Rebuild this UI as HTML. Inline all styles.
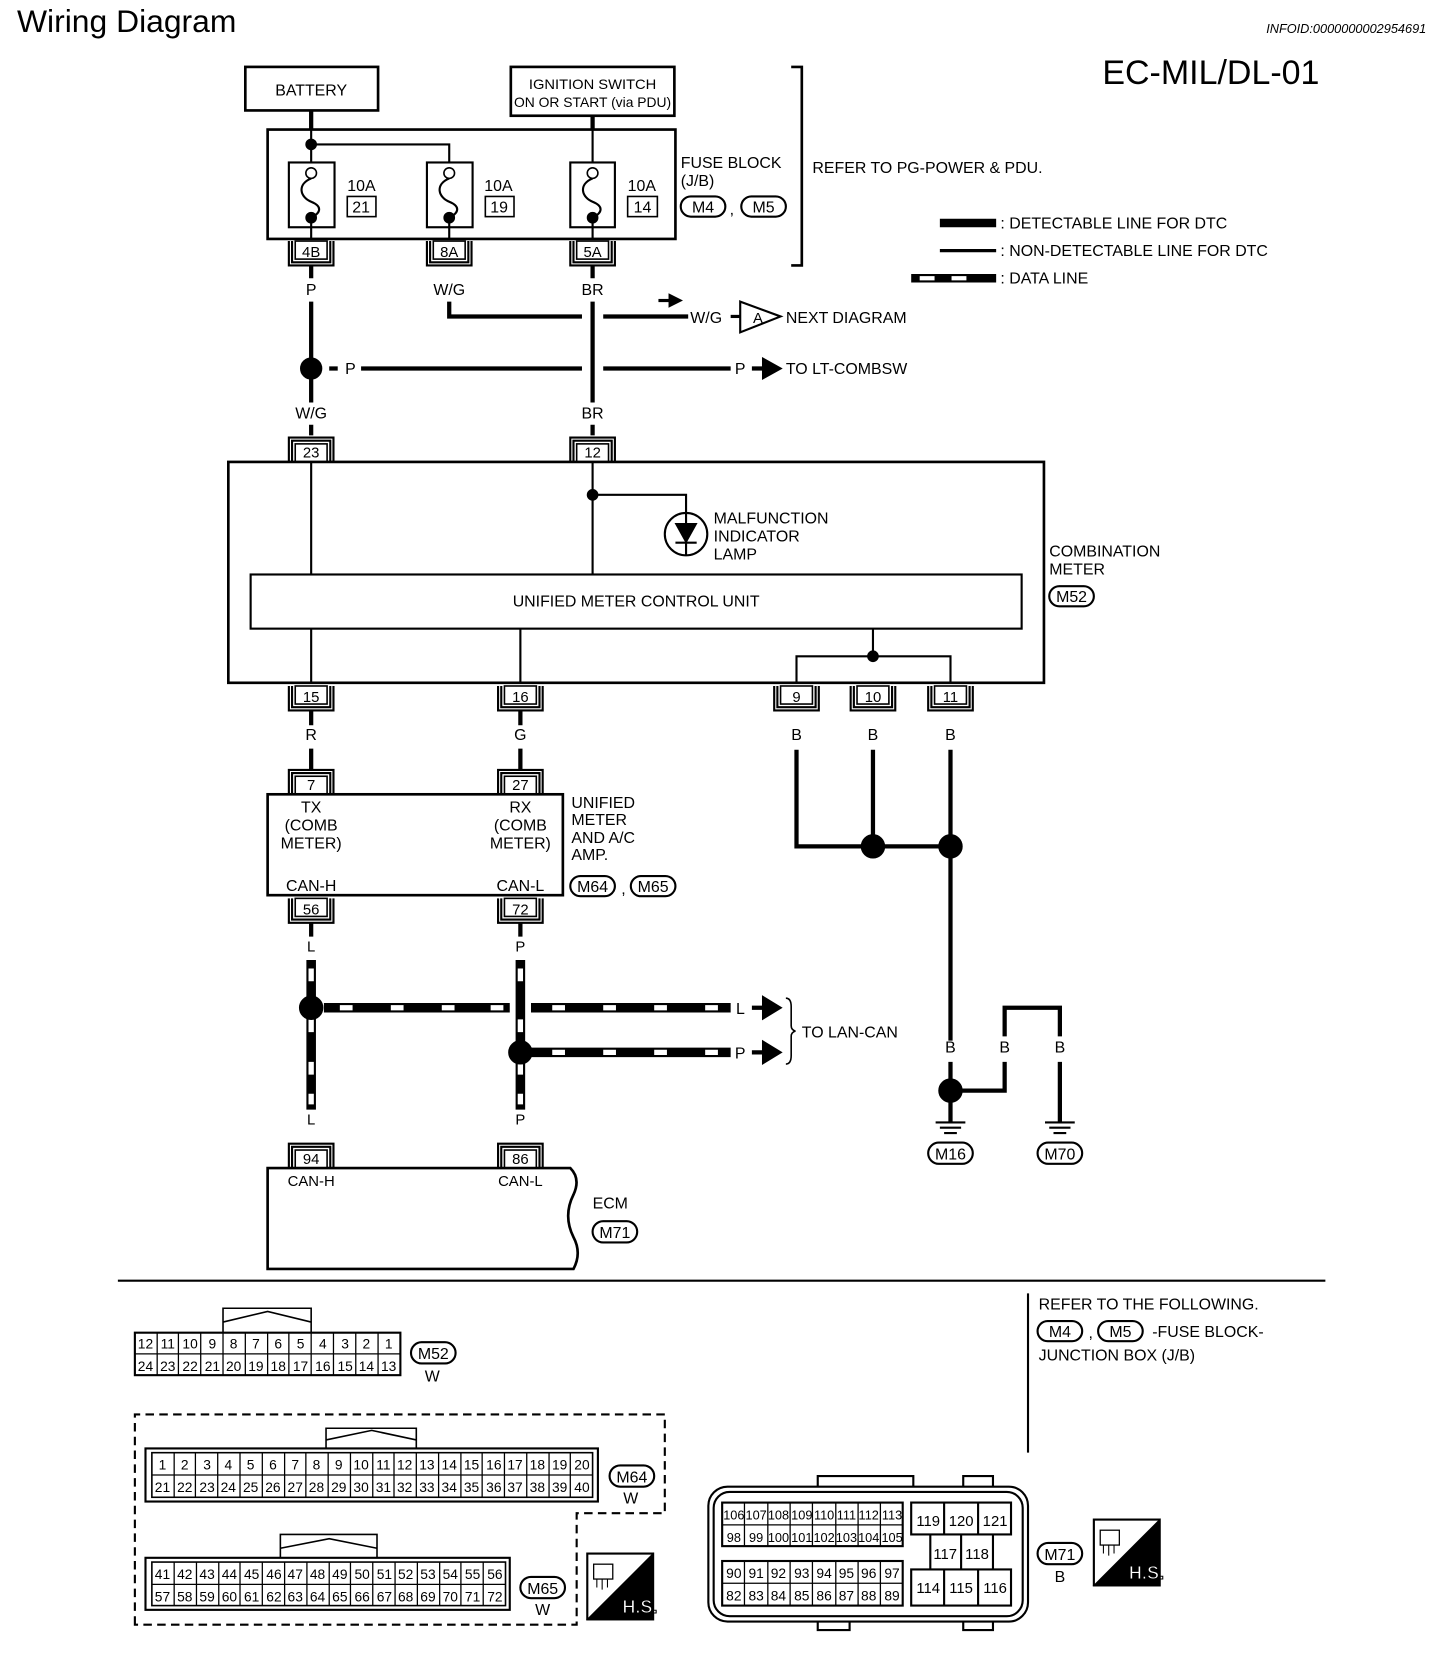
<!DOCTYPE html>
<html><head><meta charset="utf-8"><style>
html,body{margin:0;padding:0;background:#fff}
svg{display:block}
text{font-family:"Liberation Sans",sans-serif;fill:#000}
</style></head><body>
<svg width="1456" height="1664" viewBox="0 0 1371 1567" preserveAspectRatio="none" xmlns="http://www.w3.org/2000/svg">
<defs>
<g id="cdn"><rect x="-15" y="0" width="30" height="17" fill="#fff" stroke="#000" stroke-width="1.5"/><path d="M-21,0V23H21V0M-18,0V20H18V0" fill="none" stroke="#000" stroke-width="2"/></g>
<g id="cup"><rect x="-15" y="-17" width="30" height="17" fill="#fff" stroke="#000" stroke-width="1.5"/><path d="M-21,0V-23H21V0M-18,0V-20H18V0" fill="none" stroke="#000" stroke-width="2"/></g>
<g id="hs"><rect x="0" y="0" width="62" height="62" fill="#fff" stroke="#000" stroke-width="2"/><path d="M62,0V62H0Z" fill="#000"/><text x="33" y="56" font-size="17" font-weight="bold" style="fill:#fff">H.S.</text><rect x="6" y="10" width="18" height="14" fill="none" stroke="#000" stroke-width="1.2"/><path d="M9,24v8M14,24v10M19,24v8" stroke="#000"/></g>
</defs>
<g stroke="#000" fill="none">
<text x="16" y="30" font-size="30" stroke="none">Wiring Diagram</text>
<text x="1343" y="31" font-size="12" font-style="italic" text-anchor="end" stroke="none">INFOID:0000000002954691</text>
<text x="1038" y="79" font-size="32" stroke="none">EC-MIL/DL-01</text>

<rect x="231" y="63" width="125" height="41" stroke-width="2.5"/>
<text x="293" y="90" font-size="15" text-anchor="middle" stroke="none">BATTERY</text>
<rect x="481" y="63" width="154" height="46" stroke-width="2.5"/>
<text x="558" y="84" font-size="13" text-anchor="middle" stroke="none" textLength="120" lengthAdjust="spacingAndGlyphs">IGNITION SWITCH</text>
<text x="558" y="101" font-size="13" text-anchor="middle" stroke="none" textLength="148" lengthAdjust="spacingAndGlyphs">ON OR START (via PDU)</text>
<rect x="252" y="122" width="384" height="103" stroke-width="2.5"/>
<path d="M293,104V122M558,109V122" stroke-width="4"/>
<path d="M293,122V153M293,136H423V153M558,122V153" stroke-width="2"/>
<g stroke-width="2">
<rect x="272" y="153" width="43" height="61"/><rect x="402" y="153" width="43" height="61"/><rect x="537" y="153" width="42" height="61"/>
<path d="M293,168c-14,6-10,18 0,22c10,4,10,10,0,15M423,168c-14,6-10,18 0,22c10,4,10,10,0,15M558,168c-14,6-10,18 0,22c10,4,10,10,0,15"/>
<path d="M293,205V225M423,205V225M558,205V225"/>
</g>
<circle cx="293" cy="136" r="5" fill="#000"/>
<circle cx="293" cy="163" r="5" fill="#fff" stroke-width="1.5"/><circle cx="423" cy="163" r="5" fill="#fff" stroke-width="1.5"/><circle cx="558" cy="163" r="5" fill="#fff" stroke-width="1.5"/>
<circle cx="293" cy="205" r="5" fill="#000"/><circle cx="423" cy="205" r="5" fill="#000"/><circle cx="558" cy="205" r="5" fill="#000"/>
<g stroke="none" font-size="15"><text x="327" y="180">10A</text><text x="456" y="180">10A</text><text x="591" y="180">10A</text>
<text x="340" y="200" text-anchor="middle">21</text><text x="470" y="200" text-anchor="middle">19</text><text x="605" y="200" text-anchor="middle">14</text></g>
<rect x="327" y="185" width="27" height="19" stroke-width="1.5"/><rect x="457" y="185" width="27" height="19" stroke-width="1.5"/><rect x="591" y="185" width="28" height="19" stroke-width="1.5"/>
<use href="#cdn" x="293" y="227"/><use href="#cdn" x="423" y="227"/><use href="#cdn" x="558" y="227"/>
<g stroke="none" font-size="14" text-anchor="middle"><text x="293" y="242">4B</text><text x="423" y="242">8A</text><text x="558" y="242">5A</text></g>

<g stroke="none" font-size="15"><text x="641" y="158">FUSE BLOCK</text><text x="641" y="175">(J/B)</text>
<text x="765" y="163">REFER TO PG-POWER &amp; PDU.</text>
<text x="662" y="200" text-anchor="middle">M4</text><text x="719" y="200" text-anchor="middle">M5</text><text x="687" y="202">,</text></g>
<rect x="641" y="185" width="42" height="19" rx="9.5" stroke-width="2"/><rect x="698" y="185" width="42" height="19" rx="9.5" stroke-width="2"/>
<path d="M745,63H755V250H745" stroke-width="2.5"/>

<path d="M885,210H938" stroke-width="8"/><path d="M885,236H938" stroke-width="3"/>
<path d="M858,262H938" stroke-width="8"/><path d="M866,262H880M896,262H910" stroke="#fff" stroke-width="4"/>
<g stroke="none" font-size="15"><text x="942" y="215">: DETECTABLE LINE FOR DTC</text><text x="942" y="241">: NON-DETECTABLE LINE FOR DTC</text><text x="942" y="267">: DATA LINE</text></g>

<g stroke="none" font-size="15" text-anchor="middle"><text x="293" y="278">P</text><text x="423" y="278">W/G</text><text x="558" y="278">BR</text>
<text x="293" y="394">W/G</text><text x="558" y="394">BR</text></g>
<path d="M293,250V262M558,250V262M293,284V379M558,284V379M293,400V410M558,400V410" stroke-width="4"/>
<path d="M423,284V298H548M568,298H648" stroke-width="4"/>
<path d="M620,283H632" stroke-width="3"/><path d="M630,277L642,283L630,289Z" fill="#000"/>
<g stroke="none" font-size="15"><text x="650" y="304">W/G</text><text x="740" y="304">NEXT DIAGRAM</text><text x="325" y="352">P</text><text x="692" y="352">P</text><text x="740" y="352">TO LT-COMBSW</text></g>
<path d="M688,298H697" stroke-width="3"/><path d="M697,284L735,298L697,313Z" stroke-width="2"/>
<text x="709" y="304" font-size="14" stroke="none">A</text>
<circle cx="293" cy="347" r="10" fill="#000"/>
<path d="M310,347H318M340,347H548M568,347H688" stroke-width="4"/>
<path d="M708,347H722" stroke-width="4"/><path d="M718,337L736,347L718,357Z" fill="#000"/>

<use href="#cup" x="293" y="435"/><use href="#cup" x="558" y="435"/>
<g stroke="none" font-size="14" text-anchor="middle"><text x="293" y="431">23</text><text x="558" y="431">12</text></g>
<rect x="215" y="435" width="768" height="208" stroke-width="2.5"/>
<path d="M293,435V541M558,435V541M558,466H646V483" stroke-width="2"/>
<circle cx="558" cy="466" r="5" fill="#000"/>
<circle cx="646" cy="503" r="20" stroke-width="2"/>
<path d="M636,493H656L646,511Z" fill="#000"/><path d="M636,511H656M646,483V523" stroke-width="2"/>
<g stroke="none" font-size="15"><text x="672" y="493">MALFUNCTION</text><text x="672" y="510">INDICATOR</text><text x="672" y="527">LAMP</text>
<text x="599" y="571" text-anchor="middle">UNIFIED METER CONTROL UNIT</text>
<text x="988" y="524">COMBINATION</text><text x="988" y="541">METER</text><text x="1009" y="567" text-anchor="middle">M52</text></g>
<rect x="988" y="552" width="42" height="19" rx="9.5" stroke-width="2"/>
<rect x="236" y="541" width="726" height="51" stroke-width="2"/>
<path d="M293,592V643M490,592V643M822,592V618M750,643V618H895V643" stroke-width="2"/>
<circle cx="822" cy="618" r="5" fill="#000"/>
<use href="#cdn" x="293" y="646"/><use href="#cdn" x="490" y="646"/><use href="#cdn" x="750" y="646"/><use href="#cdn" x="822" y="646"/><use href="#cdn" x="895" y="646"/>
<g stroke="none" font-size="14" text-anchor="middle"><text x="293" y="661">15</text><text x="490" y="661">16</text><text x="750" y="661">9</text><text x="822" y="661">10</text><text x="895" y="661">11</text></g>
<g stroke="none" font-size="15" text-anchor="middle"><text x="293" y="697">R</text><text x="490" y="697">G</text><text x="750" y="697">B</text><text x="822" y="697">B</text><text x="895" y="697">B</text></g>
<path d="M293,669V683M490,669V683M293,705V726M490,705V726" stroke-width="4"/>
<path d="M750,706V797H895M822,706V797M895,706V980M895,1000V1027" stroke-width="4"/>
<circle cx="822" cy="797" r="11" fill="#000"/><circle cx="895" cy="797" r="11" fill="#000"/>

<use href="#cup" x="293" y="748"/><use href="#cup" x="490" y="748"/>
<g stroke="none" font-size="14" text-anchor="middle"><text x="293" y="744">7</text><text x="490" y="744">27</text></g>
<rect x="252" y="748" width="278" height="95" stroke-width="2.5"/>
<g stroke="none" font-size="15" text-anchor="middle"><text x="293" y="765">TX</text><text x="293" y="782">(COMB</text><text x="293" y="799">METER)</text>
<text x="490" y="765">RX</text><text x="490" y="782">(COMB</text><text x="490" y="799">METER)</text>
<text x="293" y="839">CAN-H</text><text x="490" y="839">CAN-L</text></g>
<g stroke="none" font-size="15"><text x="538" y="761">UNIFIED</text><text x="538" y="777">METER</text><text x="538" y="794">AND A/C</text><text x="538" y="810">AMP.</text>
<text x="558" y="840" text-anchor="middle">M64</text><text x="585" y="842">,</text><text x="615" y="840" text-anchor="middle">M65</text></g>
<rect x="537" y="825" width="42" height="19" rx="9.5" stroke-width="2"/><rect x="594" y="825" width="42" height="19" rx="9.5" stroke-width="2"/>
<use href="#cdn" x="293" y="846"/><use href="#cdn" x="490" y="846"/>
<g stroke="none" font-size="14" text-anchor="middle"><text x="293" y="896">L</text><text x="490" y="896">P</text><text x="293" y="1059">L</text><text x="490" y="1059">P</text>
<text x="293" y="861">56</text><text x="490" y="861">72</text></g>
<path d="M293,869V882M490,869V882" stroke-width="4"/>
<g stroke-width="9"><path d="M293,904V1045M490,904V1045M305,949H480M500,949H688M500,991H688"/></g>
<g stroke="#fff" stroke-width="5"><path d="M293,912V924M293,960V972M293,1000V1012M293,1030V1040M490,912V924M490,960V972M490,1000V1012M490,1030V1040"/>
<path d="M320,949H332M368,949H380M416,949H428M462,949H474M520,949H532M568,949H580M616,949H628M664,949H676M520,991H532M568,991H580M616,991H628M664,991H676"/></g>
<circle cx="293" cy="949" r="11" fill="#000"/><circle cx="490" cy="991" r="11" fill="#000"/>
<g stroke="none" font-size="15"><text x="693" y="955">L</text><text x="692" y="997">P</text><text x="755" y="977">TO LAN-CAN</text></g>
<path d="M708,949H722M708,991H722" stroke-width="4"/><path d="M718,938L736,949L718,960ZM718,980L736,991L718,1002Z" fill="#000"/>
<path d="M740,940q5,0 5,8v18q0,4 4,5q-4,1-4,5v18q0,8-5,8" stroke-width="1.5"/>
<g stroke="none" font-size="15" text-anchor="middle"><text x="895" y="991">B</text><text x="946" y="991">B</text><text x="998" y="991">B</text></g>
<path d="M895,1027H946V1000M946,976V949H998V976M998,1000V1057M895,1027V1057" stroke-width="4"/>
<circle cx="895" cy="1027" r="11" fill="#000"/>
<path d="M881,1057H909M885,1062H905M889,1067H901M984,1057H1012M988,1062H1008M992,1067H1004" stroke-width="2"/>
<rect x="874" y="1076" width="42" height="20" rx="10" stroke-width="2"/><rect x="977" y="1076" width="42" height="20" rx="10" stroke-width="2"/>
<g stroke="none" font-size="15" text-anchor="middle"><text x="895" y="1092">M16</text><text x="998" y="1092">M70</text></g>

<use href="#cup" x="293" y="1100"/><use href="#cup" x="490" y="1100"/>
<g stroke="none" font-size="14" text-anchor="middle"><text x="293" y="1096">94</text><text x="490" y="1096">86</text>
<text x="293" y="1117">CAN-H</text><text x="490" y="1117">CAN-L</text></g>
<path d="M252,1195V1100H537q10,10 3,25q-10,20 0,40q8,15 0,30Z" stroke-width="2.5"/>
<g stroke="none" font-size="15"><text x="558" y="1138">ECM</text><text x="579" y="1166" text-anchor="middle">M71</text></g>
<rect x="558" y="1150" width="42" height="20" rx="10" stroke-width="2"/>

<path d="M111,1206H1248" stroke-width="2"/><path d="M968,1218V1368" stroke-width="2"/>
<g stroke="none" font-size="15"><text x="978" y="1233">REFER TO THE FOLLOWING.</text><text x="998" y="1259" text-anchor="middle">M4</text><text x="1025" y="1260">,</text><text x="1055" y="1259" text-anchor="middle">M5</text><text x="1085" y="1259">-FUSE BLOCK-</text><text x="978" y="1281">JUNCTION BOX (J/B)</text></g>
<rect x="977" y="1244" width="42" height="19" rx="9.5" stroke-width="2"/><rect x="1034" y="1244" width="42" height="19" rx="9.5" stroke-width="2"/>

<path d="M210,1255V1232H293V1255M210,1245L252,1235L293,1245" stroke-width="1.5"/>
<rect x="127" y="1255" width="250" height="40" stroke-width="2"/>
<path d="M127,1275H377M148,1255V1295M168,1255V1295M189,1255V1295M210,1255V1295M231,1255V1295M252,1255V1295M272,1255V1295M293,1255V1295M314,1255V1295M335,1255V1295M356,1255V1295" stroke-width="1.2"/>
<g stroke="none" font-size="13" text-anchor="middle">
<text x="137" y="1270">12</text><text x="158" y="1270">11</text><text x="179" y="1270">10</text><text x="200" y="1270">9</text><text x="220" y="1270">8</text><text x="241" y="1270">7</text><text x="262" y="1270">6</text><text x="283" y="1270">5</text><text x="304" y="1270">4</text><text x="325" y="1270">3</text><text x="345" y="1270">2</text><text x="366" y="1270">1</text>
<text x="137" y="1291">24</text><text x="158" y="1291">23</text><text x="179" y="1291">22</text><text x="200" y="1291">21</text><text x="220" y="1291">20</text><text x="241" y="1291">19</text><text x="262" y="1291">18</text><text x="283" y="1291">17</text><text x="304" y="1291">16</text><text x="325" y="1291">15</text><text x="345" y="1291">14</text><text x="366" y="1291">13</text>
<text x="408" y="1280" font-size="15">M52</text><text x="407" y="1301" font-size="15">W</text></g>
<rect x="387" y="1264" width="42" height="20" rx="10" stroke-width="2"/>

<path d="M127,1530V1332H626V1425H543V1530Z" stroke-width="2" stroke-dasharray="8,5"/>
<path d="M307,1364V1345H392V1364M307,1356L350,1347L392,1356" stroke-width="1.5"/>
<rect x="137" y="1364" width="426" height="50" stroke-width="2"/>
<rect x="143" y="1368" width="415" height="42" stroke-width="1.5"/>
<path d="M143,1389H558" stroke-width="1.2"/>
<path d="M164,1368V1410M184,1368V1410M205,1368V1410M226,1368V1410M247,1368V1410M268,1368V1410M288,1368V1410M309,1368V1410M330,1368V1410M351,1368V1410M371,1368V1410M392,1368V1410M413,1368V1410M434,1368V1410M454,1368V1410M475,1368V1410M496,1368V1410M517,1368V1410M537,1368V1410" stroke-width="1.2"/>
<g stroke="none" font-size="13" text-anchor="middle">
<text x="153" y="1384">1</text><text x="174" y="1384">2</text><text x="195" y="1384">3</text><text x="215" y="1384">4</text><text x="236" y="1384">5</text><text x="257" y="1384">6</text><text x="278" y="1384">7</text><text x="298" y="1384">8</text><text x="319" y="1384">9</text><text x="340" y="1384">10</text><text x="361" y="1384">11</text><text x="381" y="1384">12</text><text x="402" y="1384">13</text><text x="423" y="1384">14</text><text x="444" y="1384">15</text><text x="465" y="1384">16</text><text x="485" y="1384">17</text><text x="506" y="1384">18</text><text x="527" y="1384">19</text><text x="548" y="1384">20</text>
<text x="153" y="1405">21</text><text x="174" y="1405">22</text><text x="195" y="1405">23</text><text x="215" y="1405">24</text><text x="236" y="1405">25</text><text x="257" y="1405">26</text><text x="278" y="1405">27</text><text x="298" y="1405">28</text><text x="319" y="1405">29</text><text x="340" y="1405">30</text><text x="361" y="1405">31</text><text x="381" y="1405">32</text><text x="402" y="1405">33</text><text x="423" y="1405">34</text><text x="444" y="1405">35</text><text x="465" y="1405">36</text><text x="485" y="1405">37</text><text x="506" y="1405">38</text><text x="527" y="1405">39</text><text x="548" y="1405">40</text>
<text x="595" y="1396" font-size="15">M64</text><text x="594" y="1416" font-size="15">W</text>
<text x="511" y="1501" font-size="15">M65</text><text x="511" y="1521" font-size="15">W</text></g>
<rect x="574" y="1380" width="42" height="20" rx="10" stroke-width="2"/>
<path d="M264,1467V1445H355V1467M264,1458L310,1449L355,1458" stroke-width="1.5"/>
<rect x="137" y="1467" width="343" height="49" stroke-width="2"/>
<rect x="143" y="1471" width="333" height="41" stroke-width="1.5"/>
<path d="M143,1492H476" stroke-width="1.2"/>
<path d="M164,1471V1512M185,1471V1512M206,1471V1512M226,1471V1512M247,1471V1512M268,1471V1512M289,1471V1512M310,1471V1512M330,1471V1512M351,1471V1512M372,1471V1512M393,1471V1512M414,1471V1512M434,1471V1512M455,1471V1512" stroke-width="1.2"/>
<g stroke="none" font-size="13" text-anchor="middle">
<text x="153" y="1487">41</text><text x="174" y="1487">42</text><text x="195" y="1487">43</text><text x="216" y="1487">44</text><text x="237" y="1487">45</text><text x="258" y="1487">46</text><text x="278" y="1487">47</text><text x="299" y="1487">48</text><text x="320" y="1487">49</text><text x="341" y="1487">50</text><text x="362" y="1487">51</text><text x="382" y="1487">52</text><text x="403" y="1487">53</text><text x="424" y="1487">54</text><text x="445" y="1487">55</text><text x="466" y="1487">56</text>
<text x="153" y="1508">57</text><text x="174" y="1508">58</text><text x="195" y="1508">59</text><text x="216" y="1508">60</text><text x="237" y="1508">61</text><text x="258" y="1508">62</text><text x="278" y="1508">63</text><text x="299" y="1508">64</text><text x="320" y="1508">65</text><text x="341" y="1508">66</text><text x="362" y="1508">67</text><text x="382" y="1508">68</text><text x="403" y="1508">69</text><text x="424" y="1508">70</text><text x="445" y="1508">71</text><text x="466" y="1508">72</text></g>
<rect x="490" y="1485" width="42" height="20" rx="10" stroke-width="2"/>
<use href="#hs" x="553" y="1463"/>

<rect x="667" y="1400" width="301" height="127" rx="18" stroke-width="2"/>
<rect x="672" y="1405" width="291" height="117" rx="15" stroke-width="2"/>
<path d="M770,1400V1390H860V1400M907,1400V1390H935V1400M770,1527V1535H800V1527M907,1527V1535H935V1527" stroke-width="2"/>
<rect x="680" y="1415" width="170" height="41" stroke-width="2"/><rect x="680" y="1470" width="170" height="42" stroke-width="2"/>
<path d="M680,1436H850M680,1491H850M701,1415V1456M723,1415V1456M744,1415V1456M765,1415V1456M787,1415V1456M808,1415V1456M829,1415V1456M701,1470V1512M723,1470V1512M744,1470V1512M765,1470V1512M787,1470V1512M808,1470V1512M829,1470V1512" stroke-width="1.2"/>
<path d="M858,1415H952V1445H858ZM889,1415V1445M921,1415V1445M876,1445V1478H935V1445M905,1445V1478M858,1478H952V1512H858ZM889,1478V1512M921,1478V1512" stroke-width="2"/>
<g stroke="none" font-size="12" text-anchor="middle">
<text x="691" y="1431">106</text><text x="712" y="1431">107</text><text x="733" y="1431">108</text><text x="755" y="1431">109</text><text x="776" y="1431">110</text><text x="797" y="1431">111</text><text x="818" y="1431">112</text><text x="840" y="1431">113</text>
<text x="691" y="1452">98</text><text x="712" y="1452">99</text><text x="733" y="1452">100</text><text x="755" y="1452">101</text><text x="776" y="1452">102</text><text x="797" y="1452">103</text><text x="818" y="1452">104</text><text x="840" y="1452">105</text>
<text x="691" y="1486" font-size="13">90</text><text x="712" y="1486" font-size="13">91</text><text x="733" y="1486" font-size="13">92</text><text x="755" y="1486" font-size="13">93</text><text x="776" y="1486" font-size="13">94</text><text x="797" y="1486" font-size="13">95</text><text x="818" y="1486" font-size="13">96</text><text x="840" y="1486" font-size="13">97</text>
<text x="691" y="1507" font-size="13">82</text><text x="712" y="1507" font-size="13">83</text><text x="733" y="1507" font-size="13">84</text><text x="755" y="1507" font-size="13">85</text><text x="776" y="1507" font-size="13">86</text><text x="797" y="1507" font-size="13">87</text><text x="818" y="1507" font-size="13">88</text><text x="840" y="1507" font-size="13">89</text>
<text x="874" y="1437" font-size="14">119</text><text x="905" y="1437" font-size="14">120</text><text x="937" y="1437" font-size="14">121</text>
<text x="890" y="1468" font-size="14">117</text><text x="920" y="1468" font-size="14">118</text>
<text x="874" y="1500" font-size="14">114</text><text x="905" y="1500" font-size="14">115</text><text x="937" y="1500" font-size="14">116</text>
<text x="998" y="1469" font-size="15">M71</text><text x="998" y="1490" font-size="15">B</text></g>
<rect x="977" y="1453" width="42" height="20" rx="10" stroke-width="2"/>
<use href="#hs" x="1030" y="1431"/>
</g>
</svg>
</body></html>
